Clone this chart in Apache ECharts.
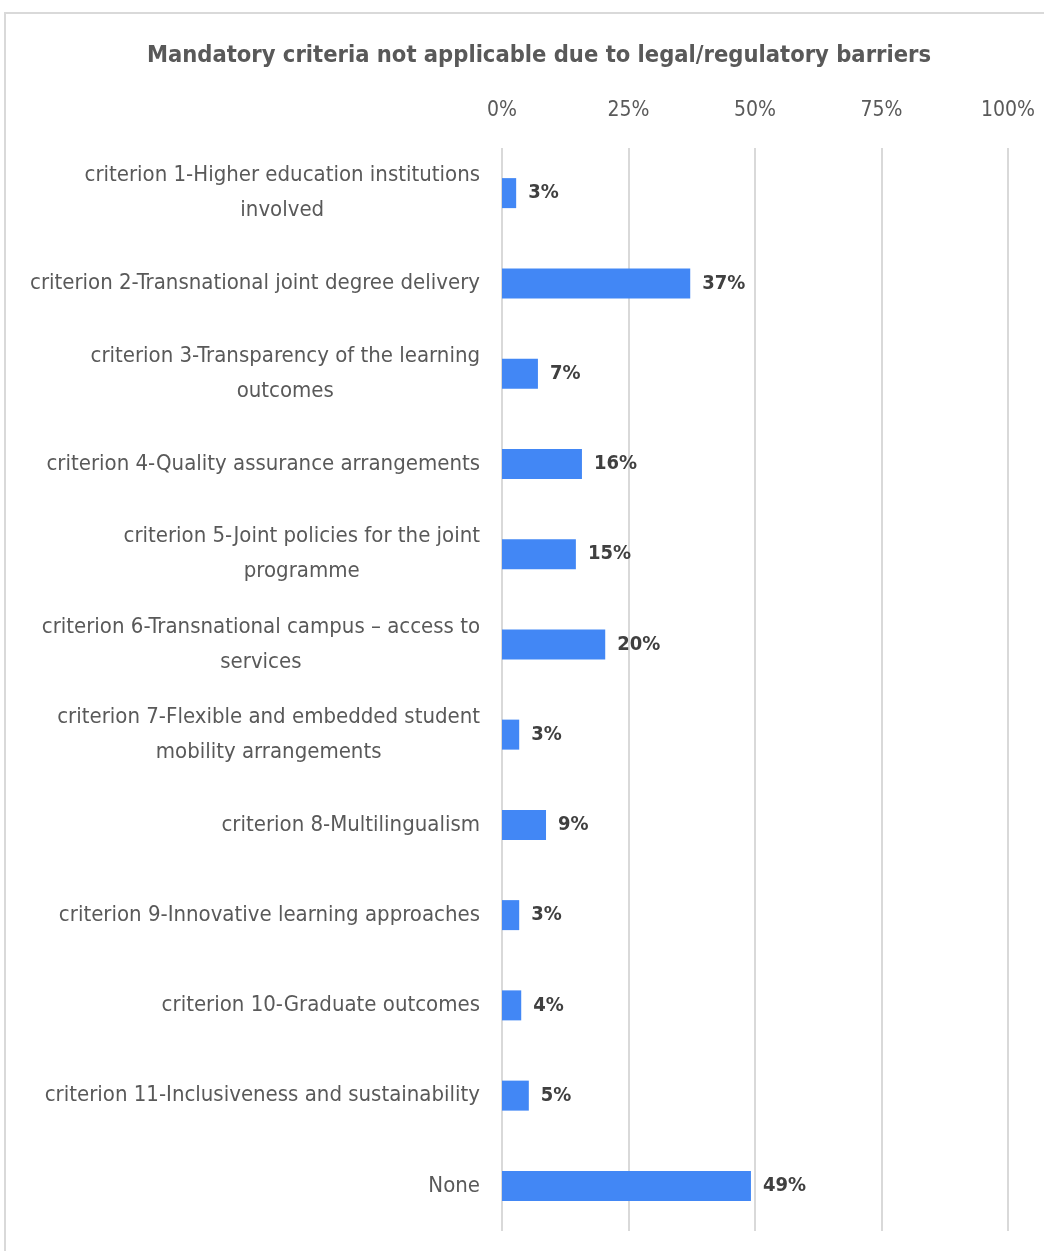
<!DOCTYPE html>
<html>
<head>
<meta charset="utf-8">
<script src="https://cdn.jsdelivr.net/npm/echarts@6/dist/echarts.min.js"></script>
<style>
  html, body { margin: 0; padding: 0; background: #fff; }
  #chart { width: 1044px; height: 1251px; }
</style>
</head>
<body>
<div id="chart"></div>
<script>
// categories, top to bottom
const categories = [
    'criterion 1-Higher education institutions\ninvolved',
    'criterion 2-Transnational joint degree delivery',
    'criterion 3-Transparency of the learning\noutcomes',
    'criterion 4-Quality assurance arrangements',
    'criterion 5-Joint policies for the joint\nprogramme',
    'criterion 6-Transnational campus \u2013 access to\nservices',
    'criterion 7-Flexible and embedded student\nmobility arrangements',
    'criterion 8-Multilingualism',
    'criterion 9-Innovative learning approaches',
    'criterion 10-Graduate outcomes',
    'criterion 11-Inclusiveness and sustainability',
    'None'
];
// share of answers, percent
const shares = [2.8, 37.2, 7.1, 15.8, 14.6, 20.4, 3.4, 8.7, 3.4, 3.8, 5.3, 49.2];
const tickValues = [0, 25, 50, 75, 100];

const FONT = '"Liberation Sans Narrow", "DejaVu Sans Condensed", sans-serif';

const chart = echarts.init(document.getElementById('chart'));
chart.setOption({
    animation: false,
    textStyle: { fontFamily: FONT },
    graphic: [{
        type: 'rect',
        shape: { x: 5, y: 13, width: 1100, height: 1300 },
        style: { fill: 'none', stroke: '#d9d9d9', lineWidth: 2 },
        silent: true
    }],
    title: {
        text: 'Mandatory criteria not applicable due to legal/regulatory barriers',
        left: 534,
        textAlign: 'center',
        top: 39,
        textStyle: { fontFamily: FONT, fontSize: 23.5, fontWeight: 'bold', color: '#595959' }
    },
    grid: { left: 502, right: 36, top: 148, bottom: 20, containLabel: false },
    xAxis: {
        type: 'value',
        position: 'top',
        min: 0,
        max: 100,
        interval: 25,
        axisLine: { show: false },
        axisTick: { show: false },
        splitLine: { lineStyle: { color: '#d9d9d9', width: 2 } },
        axisLabel: {
            margin: 27,
            fontFamily: FONT,
            fontSize: 21,
            color: '#595959',
            formatter: v => tickValues.includes(v) ? v + '%' : ''
        }
    },
    yAxis: {
        type: 'category',
        inverse: true,
        data: categories,
        axisLine: { show: false },
        axisTick: { show: false },
        axisLabel: {
            margin: 22,
            align: 'right',
            // each line centred inside the right-aligned block
            formatter: v => v.split('\n').map(s => '{c|' + s + '}').join('\n'),
            rich: {
                c: {
                    align: 'center',
                    fontFamily: FONT,
                    fontSize: 22,
                    lineHeight: 35,
                    color: '#595959'
                }
            }
        }
    },
    series: [{
        type: 'bar',
        data: shares,
        barWidth: 30,
        itemStyle: { color: '#4287f5' },
        label: {
            show: true,
            position: 'right',
            distance: 12,
            fontFamily: FONT,
            fontSize: 20,
            fontWeight: 'bold',
            color: '#404040',
            formatter: p => Math.round(p.value) + '%'
        }
    }]
});
</script>
</body>
</html>
